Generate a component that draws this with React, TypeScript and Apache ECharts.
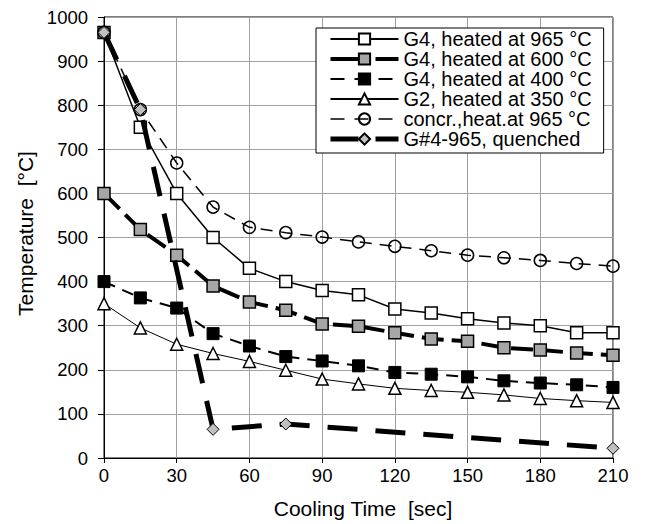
import React, { useEffect, useRef } from "react";
import * as echarts from "echarts";

const times = [0, 15, 30, 45, 60, 75, 90, 105, 120, 135, 150, 165, 180, 195, 210];
const g4At965 = [965, 750, 600, 500, 430, 400, 380, 370, 338, 329, 316, 306, 300, 284, 284];
const g4At600 = [600, 518, 460, 390, 354, 335, 304, 299, 284, 270, 265, 250, 245, 238, 233];
const g4At400 = [400, 363, 340, 282, 254, 230, 220, 209, 194, 190, 184, 175, 170, 166, 160];
const g2At350 = [350, 295, 258, 237, 219, 199, 179, 168, 158, 153, 149, 143, 135, 130, 126];
const concrAt965 = [965, 790, 669, 569, 523, 511, 501, 490, 480, 470, 460, 454, 448, 441, 435];
const quenchedTimes = [0, 15, 45, 75, 210];
const quenchedValues = [965, 790, 65, 77, 22];

const seriesNames = [
  "G4, heated at 965 °C",
  "G4, heated at 600 °C",
  "G4, heated at 400 °C",
  "G2, heated at 350 °C",
  "concr.,heat.at 965 °C",
  "G#4-965, quenched",
];

const pairs = (xs: number[], ys: number[]) => xs.map((x, i) => [x, ys[i]]);

export default function App() {
  const ref = useRef<HTMLDivElement>(null);
  useEffect(() => {
    if (!ref.current) return;
    const chart = echarts.init(ref.current, null, { renderer: "svg" });
    const font = "Liberation Sans";
    const thickLegend = { color: "#000", width: 4, type: [28, 17] };
    const thinDashLegend = (w: number) => ({ color: "#000", width: w, type: [14, 10] });
    chart.setOption({
      animation: false,
      backgroundColor: "#fff",
      grid: { left: 104, right: 32, top: 17, bottom: 64, show: true, borderColor: "#000", borderWidth: 1 },
      legend: {
        orient: "vertical",
        left: 316,
        top: 28,
        padding: [1, 12, 4, 12],
        itemWidth: 68,
        itemHeight: 14,
        itemGap: 0,
        backgroundColor: "#fff",
        borderColor: "#000",
        borderWidth: 1,
        borderRadius: 0,
        textStyle: { fontFamily: font, fontSize: 20, color: "#000", lineHeight: 18 },
        data: [
          { name: seriesNames[0] },
          { name: seriesNames[1], lineStyle: thickLegend },
          { name: seriesNames[2], lineStyle: thinDashLegend(2) },
          { name: seriesNames[3] },
          { name: seriesNames[4], lineStyle: thinDashLegend(1.5) },
          { name: seriesNames[5], lineStyle: { ...thickLegend, width: 5 } },
        ],
      },
      xAxis: {
        type: "value",
        min: 0,
        max: 210,
        interval: 30,
        name: "Cooling Time  [sec]",
        nameLocation: "middle",
        nameGap: 40,
        nameTextStyle: { fontFamily: font, fontSize: 21, color: "#000", padding: [0, 0, 0, 9] },
        axisLine: { lineStyle: { color: "#000", width: 1 } },
        axisTick: { show: true, inside: false, length: 5, lineStyle: { color: "#000" } },
        axisLabel: { fontFamily: font, fontSize: 18.5, color: "#000", margin: 8, formatter: (v: number) => String(v) },
        splitLine: { show: true, lineStyle: { color: "#a0a0a0", width: 1 } },
      },
      yAxis: {
        type: "value",
        min: 0,
        max: 1000,
        interval: 100,
        name: "Temperature  [°C]",
        nameLocation: "middle",
        nameGap: 68,
        nameTextStyle: { fontFamily: font, fontSize: 21, color: "#000", padding: [0, 0, 0, 8] },
        axisLine: { show: true, lineStyle: { color: "#000", width: 1 } },
        axisTick: { show: true, inside: false, length: 6, lineStyle: { color: "#000" } },
        axisLabel: { fontFamily: font, fontSize: 18.5, color: "#000", margin: 16, formatter: (v: number) => String(v) },
        splitLine: { show: true, lineStyle: { color: "#a0a0a0", width: 1 } },
      },
      series: [
        {
          name: seriesNames[0],
          type: "line",
          data: pairs(times, g4At965),
          symbol: "rect",
          symbolSize: 12,
          itemStyle: { color: "#fff", borderColor: "#000", borderWidth: 1.5 },
          lineStyle: { color: "#000", width: 1.5, type: "solid" },
          z: 3,
        },
        {
          name: seriesNames[1],
          type: "line",
          data: pairs(times, g4At600),
          symbol: "rect",
          symbolSize: 12,
          itemStyle: { color: "#a6a6a6", borderColor: "#000", borderWidth: 1.5 },
          lineStyle: { color: "#000", width: 4, type: [22, 8] },
          z: 3,
        },
        {
          name: seriesNames[2],
          type: "line",
          data: pairs(times, g4At400),
          symbol: "rect",
          symbolSize: 12,
          itemStyle: { color: "#000", borderColor: "#000", borderWidth: 1 },
          lineStyle: { color: "#000", width: 2, type: [12, 8] },
          z: 3,
        },
        {
          name: seriesNames[3],
          type: "line",
          data: pairs(times, g2At350),
          symbol: "triangle",
          symbolSize: 12,
          itemStyle: { color: "#fff", borderColor: "#000", borderWidth: 1.5 },
          lineStyle: { color: "#000", width: 1, type: "solid" },
          z: 3,
        },
        {
          name: seriesNames[4],
          type: "line",
          data: pairs(times, concrAt965),
          symbol: "circle",
          symbolSize: 12,
          itemStyle: { color: "transparent", borderColor: "#000", borderWidth: 1.5 },
          lineStyle: { color: "#000", width: 1.5, type: [12, 8] },
          z: 3,
        },
        {
          name: seriesNames[5],
          type: "line",
          data: pairs(quenchedTimes, quenchedValues),
          symbol: "diamond",
          symbolSize: 12,
          itemStyle: { color: "#c0c0c0", borderColor: "#000", borderWidth: 1 },
          lineStyle: { color: "#000", width: 5, type: [30, 18] },
          z: 4,
        },
      ],
    });
    return () => chart.dispose();
  }, []);
  return (
    <div
      ref={ref}
      style={{ position: "fixed", left: 0, top: 0, width: 645, height: 524, background: "#fff" }}
    />
  );
}
